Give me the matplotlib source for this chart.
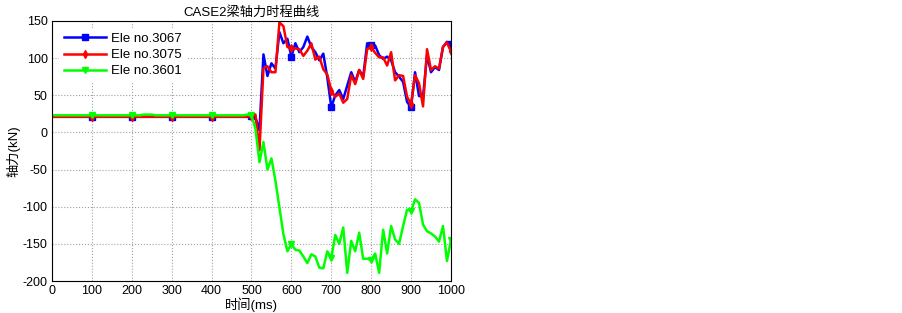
import numpy as np
import matplotlib
matplotlib.use('Agg')
import matplotlib.pyplot as plt

plt.rcParams['font.family'] = ['Liberation Sans', 'Noto Sans CJK SC', 'DejaVu Sans']
plt.rcParams['axes.unicode_minus'] = False

# 时间 (ms)，每10ms一个点
t = np.arange(0, 1001, 10)

# 0-490ms 平稳段
pre_3067 = [21] * 50
pre_3075 = [21] * 50
pre_3601 = [23, 23, 23, 23, 23, 23, 23, 23, 23, 23,
            23, 23, 23, 23, 23, 23, 23, 23, 23, 23,
            23, 23, 23, 24, 24, 24, 23, 23, 23, 23,
            23, 23, 23, 23, 23, 23, 23, 23, 23, 23,
            23, 23, 23, 23, 23, 23, 23, 23, 23, 24]

# 500-1000ms
post_3067 = [22, 20, 3, 105, 76, 93, 86, 135, 120, 126,
             102, 120, 108, 115, 129, 115, 108, 97, 106, 74,
             34, 50, 57, 45, 63, 81, 68, 84, 75, 120,
             117, 117, 104, 99, 102, 97, 81, 75, 68, 41,
             34, 81, 49, 48, 104, 81, 88, 84, 115, 122,
             119]
post_3075 = [22, 24, -24, 86, 89, 81, 81, 148, 143, 115,
             113, 113, 112, 103, 110, 120, 98, 102, 85, 78,
             56, 48, 52, 40, 45, 77, 65, 84, 72, 112,
             115, 107, 101, 101, 90, 108, 70, 77, 76, 48,
             38, 77, 66, 35, 112, 84, 89, 86, 115, 121,
             109]
post_3601 = [23, 5, -40, -13, -50, -35, -65, -101, -137, -160,
             -150, -158, -159, -167, -176, -164, -167, -182, -183, -160,
             -169, -138, -150, -128, -189, -146, -160, -135, -170, -170,
             -172, -163, -189, -131, -163, -126, -144, -150, -126, -104,
             -106, -90, -95, -124, -133, -136, -140, -147, -126, -173,
             -145]

ele_3067 = pre_3067 + post_3067
ele_3075 = pre_3075 + post_3075
ele_3601 = pre_3601 + post_3601

fig = plt.figure(figsize=(9.03, 3.13), dpi=100)
ax = fig.add_axes([0.0576, 0.1022, 0.4418, 0.8308])

mk = list(range(10, len(t), 10))
ax.plot(t, ele_3067, color='blue', lw=1.8, marker='s', ms=4, markevery=mk, label='Ele no.3067')
ax.plot(t, ele_3075, color='red', lw=1.8, marker='d', ms=4, markevery=mk, label='Ele no.3075')
ax.plot(t, ele_3601, color='#00ff00', lw=1.8, marker='v', ms=4, markevery=mk, label='Ele no.3601')

ax.set_xlim(0, 1000)
ax.set_ylim(-200, 150)
ax.set_xticks(np.arange(0, 1001, 100))
ax.set_yticks(np.arange(-200, 151, 50))
ax.tick_params(labelsize=9, direction='in', length=0, pad=3)
ax.grid(True, linestyle=':', color='#a0a0a0', lw=0.8)

ax.set_title('CASE2梁轴力时程曲线', fontsize=9.5, pad=4)
ax.set_xlabel('时间(ms)', fontsize=9.5, labelpad=0)
ax.set_ylabel('轴力(kN)', fontsize=9.5, labelpad=2)

ax.legend(loc='upper left', fontsize=9.5, frameon=True, edgecolor='none',
          facecolor='white', framealpha=1, handlelength=3.2, borderaxespad=0.5,
          labelspacing=0.3, handletextpad=0.4)

plt.savefig('out.png', dpi=100)
